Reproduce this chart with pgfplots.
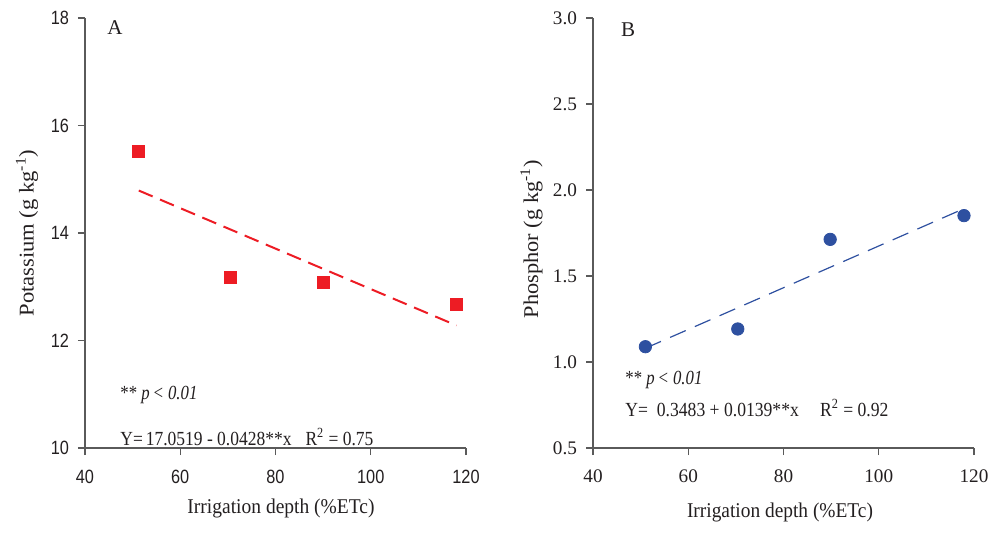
\documentclass[border=0pt]{standalone}
\usepackage{fontspec}
\setmainfont{Liberation Serif}
\usepackage{pgfplots}
\pgfplotsset{compat=1.18}
\newfontfamily\arialn[FakeStretch=0.85]{Liberation Sans}
\definecolor{kred}{RGB}{237,28,36}
\definecolor{pblue}{RGB}{46,80,160}
\definecolor{axgray}{RGB}{90,90,90}
\definecolor{txt}{RGB}{35,31,32}
\newcommand{\fitw}[2]{\resizebox{#1}{\height}{#2}}
\pgfplotsset{
  panel/.style={
    scale only axis, width=190.5pt, height=215pt,
    axis lines=left, axis line style={-, axgray, line width=0.6pt},
    xmin=40, xmax=120, xtick={40,60,80,100,120},
    tick align=outside, major tick length=3.5pt,
    every tick/.style={axgray, line width=0.6pt},
    /pgf/number format/assume math mode=true,
    xticklabel style={yshift=-4pt},
    yticklabel style={xshift=-1pt},
    tick label style={txt},
  }
}
\begin{document}
\begin{tikzpicture}
\useasboundingbox (0,0) rectangle (497.5pt,-276pt);
% Panel A
\begin{axis}[panel, at={(42.5pt,-224pt)}, anchor=south west,
  ymin=10, ymax=18, ytick={10,12,14,16,18},
  tick label style={font=\arialn\fontsize{9.6}{9.6}\selectfont}]
\addplot[only marks, mark=square*, mark size=3pt, kred] coordinates {
  (51.3,15.51) (70.6,13.18) (90.0,13.09) (118.0,12.67)};
\addplot[kred, line width=1pt, dash pattern=on 7.5pt off 4pt] coordinates {
  (51.3,14.79) (118.0,12.28)};
\end{axis}
% Panel B
\begin{axis}[panel, at={(296.5pt,-224pt)}, anchor=south west,
  ymin=0.5, ymax=3.0, ytick={0.5,1.0,1.5,2.0,2.5,3.0},
  yticklabel style={/pgf/number format/.cd, fixed, fixed zerofill, precision=1},
  tick label style={font=\fontsize{9.6}{9.6}\selectfont}]
\addplot[only marks, mark=*, mark size=3.1pt, pblue] coordinates {
  (51.0,1.089) (70.4,1.192) (89.8,1.713) (117.9,1.851)};
\addplot[pblue, line width=0.6pt, dash pattern=on 8.5pt off 5pt] coordinates {
  (51.0,1.08) (118.0,1.893)};
\end{axis}
% texts
\begin{scope}[txt, font=\fontsize{10.5}{11}\selectfont]
\node at (57.5pt,-14pt) {A};
\node at (314pt,-15pt) {B};
\begin{scope}[font=\fontsize{10}{11}\selectfont]
\node[anchor=west, inner xsep=0pt] at (60pt,-197.5pt) {\fitw{38.5pt}{** \textit{p}\,\textit{< 0.01}}};
\node[anchor=west, inner xsep=0pt] at (60pt,-218.5pt) {\fitw{126.5pt}{Y=\,17.0519 - 0.0428**x\hspace{0.8em}R\textsuperscript{2} = 0.75}};
\node[anchor=west, inner xsep=0pt] at (312.5pt,-190pt) {\fitw{38.5pt}{** \textit{p}\,\textit{< 0.01}}};
\node[anchor=west, inner xsep=0pt] at (312.5pt,-204pt) {\fitw{131.5pt}{Y=\ \ 0.3483 + 0.0139**x\hspace{1.2em}R\textsuperscript{2} = 0.92}};
\end{scope}
\node at (140.5pt,-254pt) {\fitw{93.5pt}{Irrigation depth (\%ETc)}};
\node at (390pt,-256pt) {\fitw{93pt}{Irrigation depth (\%ETc)}};
\node[rotate=90] at (13.5pt,-116.5pt) {\fitw{83.5pt}{Potassium (g kg\textsuperscript{-1})}};
\node[rotate=90] at (265.8pt,-119.5pt) {\fitw{79pt}{Phosphor (g kg\textsuperscript{-1})}};
\end{scope}
\end{tikzpicture}
\end{document}
